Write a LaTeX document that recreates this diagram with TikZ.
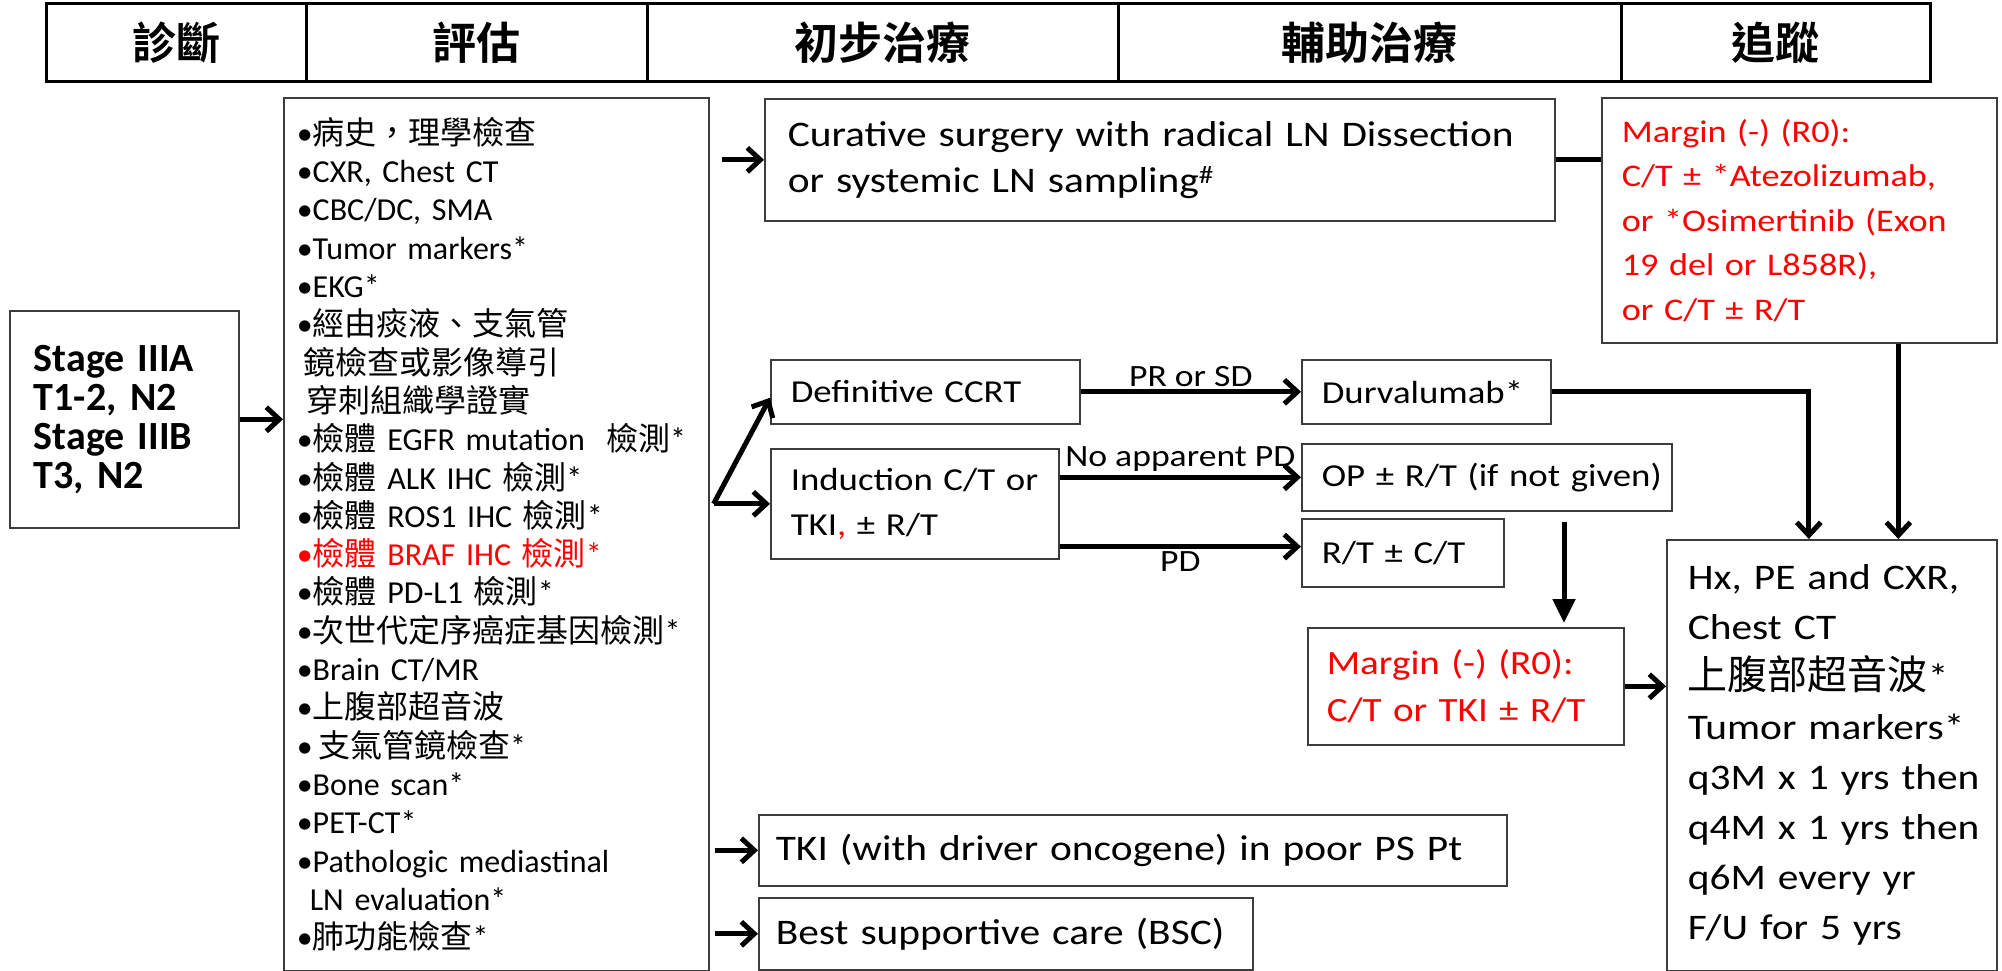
\documentclass[tikz,border=0pt]{standalone}
\usepackage{fontspec}
\setmainfont{Carlito}
\newfontfamily\widefont{Carlito}[FakeStretch=1.15]
\newfontfamily\zhfont{Noto Sans CJK TC}[BoldFont={Noto Sans CJK TC Bold}]
\usepackage{xcolor}
\usetikzlibrary{arrows.meta,positioning,calc}
\newcommand{\zh}[1]{{\zhfont #1}}
\newcommand{\pxfont}[2]{\fontsize{#1}{#2}\selectfont}
\definecolor{mred}{RGB}{255,0,0}
\definecolor{edge}{RGB}{60,60,60}

\begin{document}
\begin{tikzpicture}[x=1pt,y=-1pt,
  headcell/.style={draw, line width=3pt, outer sep=0pt, inner sep=0pt, minimum height=78pt, font=\zhfont\bfseries\pxfont{44}{50}},
  box/.style={draw=edge, line width=1.6pt, anchor=north west, align=left, inner ysep=0pt},
  redtext/.style={text=mred},
  lbl/.style={inner sep=3pt, font=\widefont\pxfont{31}{36}},
  link/.style={line width=5pt},
  arr/.style={link, -{Straight Barb[length=13pt,width=24pt]}},
  drop/.style={link, -{Triangle[length=24pt,width=22pt]}}]

\useasboundingbox (0,0) rectangle (2002,971);

% header row
\node[headcell, anchor=north west, minimum width=260pt] (hdiag) at (46,4) {診斷};
\node[headcell, right=0pt of hdiag, minimum width=341pt] (heval) {評估};
\node[headcell, right=0pt of heval, minimum width=471pt] (hinit) {初步治療};
\node[headcell, right=0pt of hinit, minimum width=503pt] (hadj) {輔助治療};
\node[headcell, right=0pt of hadj, minimum width=309pt] (hfu) {追蹤};

% diagnosis and work-up
\node[box, inner xsep=24pt, text width=181pt, minimum height=217pt, font=\bfseries\pxfont{40}{39}] (stage) at (9,310) {Stage IIIA\\T1-2, N2\\Stage IIIB\\T3, N2};
\node[box, inner xsep=13pt, text width=399pt, minimum height=873pt, font=\pxfont{32}{38.3}] (list) at (283,97) {%
•\zh{病史，理學檢查}\\
•CXR, Chest CT\\
•CBC/DC, SMA\\
•Tumor markers*\\
•EKG*\\
•\zh{經由痰液、支氣管}\\
\hspace*{7pt}\zh{鏡檢查或影像導引}\\
\hspace*{10pt}\zh{穿刺組織學證實}\\
•\zh{檢體} EGFR mutation\ \ \zh{檢測}*\\
•\zh{檢體} ALK IHC \zh{檢測}*\\
•\zh{檢體} ROS1 IHC \zh{檢測}*\\
{\color{mred}•\zh{檢體} BRAF IHC \zh{檢測}*}\\
•\zh{檢體} PD-L1 \zh{檢測}*\\
•\zh{次世代定序癌症基因檢測}*\\
•Brain CT/MR\\
•\zh{上腹部超音波}\\
•\,\zh{支氣管鏡檢查}*\\
•Bone scan*\\
•PET-CT*\\
•Pathologic mediastinal\\
\hspace*{13pt}LN evaluation*\\
•\zh{肺功能檢查}*};

% initial treatment
\node[box, inner xsep=23pt, text width=744pt, minimum height=122pt, font=\widefont\pxfont{36}{46}] (cur) at (764,98) {Curative~surgery~with~radical~LN~Dissection\\or~systemic~LN~sampling\textsuperscript{\#}};
\node[box, inner xsep=20pt, text width=269pt, minimum height=64pt, font=\widefont\pxfont{32}{45}] (def) at (770,359) {Definitive~CCRT};
\node[box, inner xsep=20pt, text width=248pt, minimum height=110pt, font=\widefont\pxfont{32}{45}] (ind) at (770,448) {Induction~C/T~or\\TKI{\color{mred},}~±~R/T};
\node[box, inner xsep=17pt, text width=714pt, minimum height=71pt, font=\widefont\pxfont{36}{46}] (tki) at (758,814) {TKI~(with~driver~oncogene)~in~poor~PS~Pt};
\node[box, inner xsep=17pt, text width=460pt, minimum height=72pt, font=\widefont\pxfont{36}{46}] (bsc) at (758,897) {Best~supportive~care~(BSC)};

% adjuvant treatment
\node[box, redtext, inner xsep=20pt, text width=355pt, minimum height=245pt, font=\widefont\pxfont{31.5}{44.5}] (mar) at (1601,97) {Margin~(-)~(R0):\\C/T~±~*Atezolizumab,\\or~*Osimertinib~(Exon\\19~del~or~L858R),\\or~C/T~±~R/T};
\node[box, inner xsep=20pt, text width=209pt, minimum height=64pt, font=\widefont\pxfont{32}{45}] (durv) at (1301,359) {Durvalumab*};
\node[box, inner xsep=20pt, text width=330pt, minimum height=67pt, font=\widefont\pxfont{32}{45}] (op) at (1301,443) {OP~±~R/T~(if~not~given)};
\node[box, inner xsep=20pt, text width=162pt, minimum height=68pt, font=\widefont\pxfont{32}{45}] (rt) at (1301,518) {R/T~±~C/T};
\node[box, redtext, inner xsep=19pt, text width=278pt, minimum height=117pt, font=\widefont\pxfont{34}{47}] (mgn) at (1307,627) {Margin~(-)~(R0):\\C/T~or~TKI~±~R/T};

% follow-up
\node[box, inner xsep=21pt, text width=288pt, minimum height=431pt, font=\widefont\pxfont{36}{50}] (fu) at (1666,539) {Hx,~PE~and~CXR,\\Chest~CT\\{\zhfont\pxfont{40}{50}上腹部超音波}*\\Tumor~markers*\\q3M~x~1~yrs~then\\q4M~x~1~yrs~then\\q6M~every~yr\\F/U~for~5~yrs};

% connectors
\draw[arr] (stage.east) -- (stage.east -| list.west);
\draw[arr] ($(list.east |- cur.west)+(12,0)$) -- (cur.west);
\coordinate (fork) at ($(list.east |- ind.west)+(4,0)$);
\draw[arr] (fork) -- ($(def.west)+(0,6)$);
\draw[arr] (fork) -- (ind.west);
\draw[arr] ($(list.east |- tki.west)+(5,0)$) -- (tki.west);
\draw[arr] ($(list.east |- bsc.west)+(5,0)$) -- (bsc.west);

\draw[arr] (def.east) -- node[lbl, above] {PR or SD} (durv.west);
\draw[arr] (ind.east |- op.west) -- node[lbl, above] {No apparent PD} (op.west);
\coordinate (pdrow) at ($(ind.south east)+(0,-13)$);
\draw[arr] (pdrow) -- node[lbl, below] {PD} (pdrow -| rt.west);

\draw[link] (cur.east) -- (cur.east -| mar.west);
\coordinate (mardrop) at ($(mar.south)+(99,0)$);
\draw[arr] (mardrop) -- (mardrop |- fu.north);
\draw[arr] (durv.east) -| ($(fu.north)+(-23,0)$);
\coordinate (opdrop) at (1564,522);
\draw[drop] (opdrop) -- ($(opdrop |- mgn.north)+(0,-4)$);
\draw[arr] (mgn.east) -- (mgn.east -| fu.west);

\end{tikzpicture}
\end{document}
